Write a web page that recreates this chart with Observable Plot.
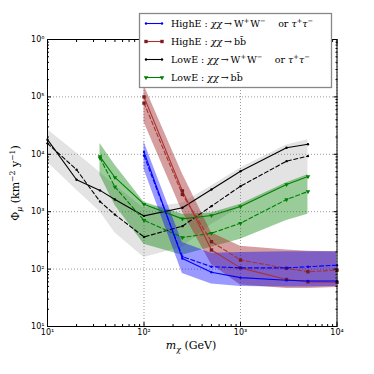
<!DOCTYPE html>
<html><head><meta charset="utf-8">
<script src="https://cdn.jsdelivr.net/npm/d3@7"></script>
<script src="https://cdn.jsdelivr.net/npm/@observablehq/plot@0.6"></script>
<style>body{margin:0;background:#fff;} #chart svg{display:block;}</style>
</head><body><div id="chart"></div>
<script>
// ---- data ----
const massLowWW = [10, 20, 35, 50, 100, 250, 500, 1000, 3000, 5000];
const lowWWSolid = [18000, 3600, 2350, 1630, 845, 1170, 2440, 5070, 13000, 15000];
const lowWWDashed = [15500, 5400, 1500, 890, 363, 560, 1250, 2780, 7600, 9300];
const lowWWBandLow = [7300, 2400, 1000, 430, 160, 240, 600, 1200, 3000, 4200];
const lowWWBandHigh = [27000, 10500, 4800, 2900, 1150, 1400, 2800, 5800, 14500, 18000];

const massLowBB = [35, 50, 100, 250, 500, 1000, 3000, 5000];
const lowBBSolid = [9100, 3950, 1350, 750, 860, 1230, 2980, 4100];
const lowBBDashed = [8600, 2700, 710, 355, 422, 630, 1630, 2250];
const lowBBBandLow = [4300, 1300, 270, 175, 240, 330, 700, 900];
const lowBBBandHigh = [15500, 6500, 1460, 900, 950, 1350, 3200, 4400];

const massHigh = [100, 250, 500, 1000, 3000, 5000, 10000];
const highWWSolid = [11000, 153, 88, 71, 64, 62, 62];
const highWWDashed = [9500, 165, 110, 105, 105, 110, 117];
const highWWBandLow = [5500, 84, 55, 50, 49, 49, 50];
const highWWBandHigh = [16500, 290, 188, 195, 200, 200, 200];

const highBBSolid = [100000, 2300, 215, 105, 66, 60, 59];
const highBBDashed = [78000, 2000, 300, 144, 103, 90, 96];
const highBBBandLow = [36000, 1000, 120, 53, 46, 46, 48];
const highBBBandHigh = [160000, 4600, 430, 250, 215, 205, 200];

const xTicks = [10, 100, 1000, 10000];
const yTicks = [10, 100, 1000, 10000, 100000, 1000000];
const minorMult = [2, 3, 4, 5, 6, 7, 8, 9];
const xMinor = [10, 100, 1000].flatMap(d => minorMult.map(k => d * k));
const yMinor = [10, 100, 1000, 10000, 100000].flatMap(d => minorMult.map(k => d * k));

const legendLabels = ["HighE", "HighE", "LowE", "LowE"];

// ---- build tables ----
const rows = (m, s, d, lo, hi) => m.map((x, i) => ({m: x, solid: s[i], dashed: d[i], lo: lo[i], hi: hi[i]}));
const lowWW = rows(massLowWW, lowWWSolid, lowWWDashed, lowWWBandLow, lowWWBandHigh);
const lowBB = rows(massLowBB, lowBBSolid, lowBBDashed, lowBBBandLow, lowBBBandHigh);
const highWW = rows(massHigh, highWWSolid, highWWDashed, highWWBandLow, highWWBandHigh);
const highBB = rows(massHigh, highBBSolid, highBBDashed, highBBBandLow, highBBBandHigh);

const series = [
  {data: lowWW, color: "black", sym: "circle", r: 1.2, rot: 0},
  {data: lowBB, color: "#008000", sym: "triangle", r: 1.7, rot: 180},
  {data: highBB, color: "#a83232", sym: "square", r: 1.9, rot: 0, mark: "#7a1c1c"},
  {data: highWW, color: "#0000ff", sym: "circle", r: 1.2, rot: 0}
];

const supDigits = {1: "\u00b9", 2: "\u00b2", 3: "\u00b3", 4: "\u2074", 5: "\u2075", 6: "\u2076"};
const fmt = d => "10" + supDigits[Math.round(Math.log10(d))];

const lineMarks = series.flatMap(s => [
  Plot.line(s.data, {x: "m", y: "solid", stroke: s.color, strokeWidth: 1.1}),
  Plot.line(s.data, {x: "m", y: "dashed", stroke: s.color, strokeWidth: 1.1, strokeDasharray: "4,2.5"}),
  Plot.dot(s.data, {x: "m", y: "solid", symbol: s.sym, r: s.r, fill: s.mark || s.color, rotate: s.rot}),
  Plot.dot(s.data, {x: "m", y: "dashed", symbol: s.sym, r: s.r, fill: s.mark || s.color, rotate: s.rot})
]);

const plot = Plot.plot({
  width: 374, height: 374,
  marginLeft: 47, marginRight: 37.5, marginTop: 39, marginBottom: 48,
  x: {type: "log", domain: [10, 10000]},
  y: {type: "log", domain: [10, 1000000]},
  style: {fontFamily: "DejaVu Sans", fontSize: "8px", background: "white", color: "black"},
  marks: [
    Plot.gridX(xTicks, {stroke: "#000", strokeOpacity: 0.4, strokeDasharray: "1,2"}),
    Plot.gridY(yTicks, {stroke: "#000", strokeOpacity: 0.4, strokeDasharray: "1,2"}),
    Plot.areaY(lowWW, {x: "m", y1: "lo", y2: "hi", fill: "#808080", fillOpacity: 0.22, clip: true}),
    Plot.areaY(lowBB, {x: "m", y1: "lo", y2: "hi", fill: "#008000", fillOpacity: 0.4, clip: true}),
    Plot.areaY(highBB, {x: "m", y1: "lo", y2: "hi", fill: "#a52a2a", fillOpacity: 0.45, clip: true}),
    Plot.areaY(highWW, {x: "m", y1: "lo", y2: "hi", fill: "#0000ff", fillOpacity: 0.4, clip: true}),
    ...lineMarks,
    Plot.frame({stroke: "black", strokeWidth: 1}),
    Plot.axisX(xTicks, {anchor: "bottom", tickSize: 0, tickPadding: 3, tickFormat: fmt, label: null, fontSize: 8}),
    Plot.axisX(xTicks, {anchor: "bottom", tickSize: -4, fill: "none", label: null}),
    Plot.axisX(xTicks, {anchor: "top", tickSize: -4, fill: "none", label: null}),
    Plot.axisX(xMinor, {anchor: "bottom", tickSize: -2, fill: "none", label: null}),
    Plot.axisX(xMinor, {anchor: "top", tickSize: -2, fill: "none", label: null}),
    Plot.axisY(yTicks, {anchor: "left", tickSize: 0, tickPadding: 3, tickFormat: fmt, label: null, fontSize: 8}),
    Plot.axisY(yTicks, {anchor: "left", tickSize: -4, fill: "none", label: null}),
    Plot.axisY(yTicks, {anchor: "right", tickSize: -4, fill: "none", label: null}),
    Plot.axisY(yMinor, {anchor: "left", tickSize: -2, fill: "none", label: null}),
    Plot.axisY(yMinor, {anchor: "right", tickSize: -2, fill: "none", label: null})
  ]
});
document.getElementById("chart").appendChild(plot);

// ---- rich text helpers (labels & legend) ----
const svg = d3.select(plot);
function rich(sel, parts, fs) {
  let shift = 0;
  for (const p of parts) {
    const target = p.sup ? -0.4 * fs : p.sub ? 0.25 * fs : 0;
    const ts = sel.append("tspan").text(p.t).attr("dy", target - shift);
    shift = target;
    if (p.sup || p.sub) ts.attr("font-size", fs * 0.7);
    if (p.i) ts.attr("font-style", "italic");
  }
}
const serif = "DejaVu Serif";
// x label
const xl = svg.append("text").attr("x", 191).attr("y", 349).attr("text-anchor", "middle")
  .attr("font-family", serif).attr("font-size", 11).attr("fill", "black");
rich(xl, [{t: "m", i: true}, {t: "\u03c7", i: true, sub: true}, {t: " (GeV)"}], 11);
// y label
const yl = svg.append("text").attr("transform", "translate(19,183) rotate(-90)").attr("text-anchor", "middle")
  .attr("font-family", serif).attr("font-size", 11).attr("fill", "black");
rich(yl, [{t: "\u03a6"}, {t: "\u03bc", i: true, sub: true}, {t: " (km"}, {t: "\u22122", sup: true}, {t: " y"}, {t: "\u22121", sup: true}, {t: ")"}], 11);

// ---- legend ----
const lg = svg.append("g");
lg.append("rect").attr("x", 139.5).attr("y", 13.5).attr("width", 192).attr("height", 74)
  .attr("fill", "white").attr("stroke", "#888").attr("stroke-width", 1.3);
const ww = label => [{t: label + " : "}, {t: "\u03c7\u03c7", i: true}, {t: "\u2009\u2192\u2009W"}, {t: "+", sup: true}, {t: "\u200aW"}, {t: "\u2212", sup: true}, {t: "\u2003 or "}, {t: "\u03c4", i: true}, {t: "+", sup: true}, {t: "\u03c4", i: true}, {t: "\u2212", sup: true}];
const bb = label => [{t: label + " : "}, {t: "\u03c7\u03c7", i: true}, {t: "\u2009\u2192\u2009bb\u0304"}];
const legendParts = [ww(legendLabels[0]), bb(legendLabels[1]), ww(legendLabels[2]), bb(legendLabels[3])];
const legendStyle = [series[3], series[2], series[0], series[1]];
legendParts.forEach((parts, k) => {
  const cy = 23.5 + k * 18;
  const s = legendStyle[k];
  lg.append("line").attr("x1", 146).attr("x2", 162).attr("y1", cy).attr("y2", cy)
    .attr("stroke", s.color).attr("stroke-width", 1.1);
  [146, 162].forEach(cx => {
    const sym = d3.symbol(s.sym === "square" ? d3.symbolSquare : s.sym === "triangle" ? d3.symbolTriangle : d3.symbolCircle, Math.PI * s.r * s.r);
    lg.append("path").attr("d", sym()).attr("transform", `translate(${cx},${cy}) rotate(${s.rot})`).attr("fill", s.mark || s.color);
  });
  const t = lg.append("text").attr("x", 171).attr("y", cy + 3.3).attr("text-anchor", "start")
    .attr("font-family", serif).attr("font-size", 9.5).attr("fill", "black");
  rich(t, parts, 9.5);
});
</script>
</body></html>
